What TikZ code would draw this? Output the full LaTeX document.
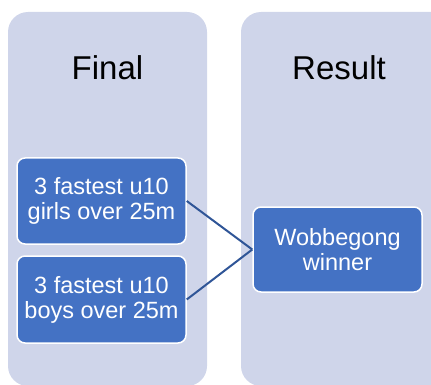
\documentclass[tikz,border=0pt]{standalone}
\usepackage{fontspec}
\setmainfont{Liberation Sans}
\definecolor{panelfill}{HTML}{CFD5EA}
\definecolor{boxfill}{HTML}{4472C4}
\definecolor{linkblue}{HTML}{2F5597}
\tikzset{
    panel/.style = {fill = panelfill, rounded corners = 20pt},
    title/.style = {anchor = base, font = \fontsize{33}{38}\selectfont},
    stage/.style = {draw = white, line width = 1.5pt, fill = boxfill, rounded corners = 8pt,
        text = white, align = center, minimum width = 169pt, font = \fontsize{23.5}{25}\selectfont},
    link/.style = {draw = linkblue, line width = 2pt}
}
\begin{document}
\begin{tikzpicture}[x = 1pt, y = -1pt]
        \useasboundingbox (0,0) rectangle (431,385);
        \clip (0,0) rectangle (431,385);
        \begin{scope}
            \fill[panel] (8,12) rectangle (207,386);
            \fill[panel] (241,12) rectangle (460,386);
        \end{scope}
        \node[title] (final) at (107.5,80) {Final};
        \node[title] (result) at (339,80) {Result};
        \begin{scope}
            \node[stage, minimum height = 86pt] (girls) at (101.5,201) {3 fastest u10\\girls over 25m};
            \node[stage, minimum height = 87pt] (boys) at (101.5,299.5) {3 fastest u10\\boys over 25m};
            \node[stage, minimum height = 85pt] (winner) at (337.5,249.5) {Wobbegong\\winner};
            \draw[link] (girls.east) -- (winner.west);
            \draw[link] (boys.east) -- (winner.west);
        \end{scope}
    \end{tikzpicture}
\end{document}
